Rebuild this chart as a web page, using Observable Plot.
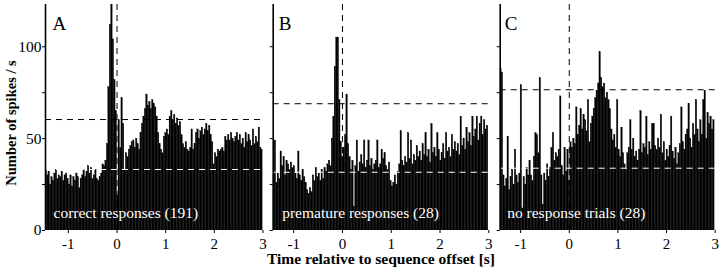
<!DOCTYPE html>
<html>
<head>
<meta charset="utf-8">
<script src="https://cdn.jsdelivr.net/npm/d3@7"></script>
<script src="https://cdn.jsdelivr.net/npm/@observablehq/plot@0.6"></script>
<style>
  html, body { margin: 0; padding: 0; background: white; }
  #wrap { position: relative; width: 720px; height: 276px; overflow: hidden; font-family: "Liberation Serif", "Times New Roman", serif; }
  #wrap svg { position: absolute; left: 0; top: 0; font-family: "Liberation Serif", "Times New Roman", serif; }
  #wrap svg text { font-family: "Liberation Serif", "Times New Roman", serif; }
  .lab { position: absolute; font-family: "Liberation Serif", "Times New Roman", serif; font-weight: bold; white-space: nowrap; color: black; }
</style>
</head>
<body>
<div id="wrap"></div>
<script>
// ---- data (spikes / s per 30 ms bin) ----
const binWidth = 0.03;
const startA = -1.47, startB = -1.42, startC = -1.42;
const ratesA = [
  33,30,32,25,29, 27,31,33,28,30, 29,32,27,30,31, 28,25,30,24,29,
  27,31,29,23,28, 30,33,29,32,35, 31,34,28,30,33, 28,27,29,31,36,
  35,38,47,78,112, 123,104,82,65,19, 60,45,72,58,33, 42,40,44,46,48,
  49,45,50,47,44, 53,58,62,66,74, 68,70,66,71,69, 67,62,53,47,44,
  42,51,53,55,52, 62,65,60,63,58, 61,57,59,52,47, 45,48,44,43,45,
  55,44,47,53,55, 50,54,56,52,55, 58,54,57,52,48, 36,42,40,44,43,
  44,45,43,51,49, 52,49,53,50,48, 51,53,49,52,47, 50,45,53,48,52,
  49,46,55,47,51, 48,56,45,44
];
const ratesB = [
  30,49,26,31,28, 43,35,40,30,38, 36,33,37,34,35, 31,28,43,30,27,
  33,29,26,22,20, 23,21,30,27,34, 29,31,27,33,28, 34,32,36,38,35,
  50,62,89,105,105, 71,48,40,45,52, 74,47,40,33,38, 13,35,49,32,37,
  41,36,49,34,38, 49,35,39,33,36, 38,49,34,36,44, 39,42,35,33,37,
  27,24,26,30,25, 32,36,54,38,35, 40,37,53,39,49, 36,41,38,46,40,
  43,38,47,41,53, 40,44,37,58,42, 45,40,53,44,38, 42,47,39,53,43,
  45,40,52,44,48, 43,47,41,62,46, 50,44,56,48,53, 46,62,51,55,62,
  49,58,62,52,60, 55,57
];
const ratesC = [
  88,86,30,24,28, 51,22,29,33,25, 44,30,26,31,79, 12,29,25,34,30,
  38,30,27,40,53, 52,42,83,30,14, 31,27,36,29,34, 45,53,38,42,40,
  44,73,35,30,45, 32,44,27,48,45, 50,47,67,52,57, 66,55,63,60,54,
  71,48,58,62,66, 72,76,80,97,83, 78,80,72,75,71, 66,55,49,52,45,
  71,44,40,56,42, 36,33,42,45,60, 44,50,40,43,38, 44,65,42,47,45,
  62,41,48,44,58, 58,46,44,50,45, 63,42,48,38,44, 40,46,62,43,39,
  45,36,42,47,67, 48,44,52,55,69, 50,45,58,52,71, 55,48,60,52,71,
  76,50,64,58,62, 55,60
];
const letters = ["A", "B", "C"];
const captions = ["correct responses (191)", "premature responses (28)", "no response trials (28)"];
const upperLines = [60.4, 69, 76.6];
const lowerLines = [33.2, 31.7, 33.9];
const xTicks = [-1, 0, 1, 2, 3];
const yTicks = [0, 25, 50, 75, 100];
const yLabelTicks = [0, 50, 100];
const yTitle = "Number of spikes / s";
const xTitle = "Time relative to sequence offset [s]";

// ---- layout ----
const W = 720, H = 276;
const panels = [
  {rates: ratesA, start: startA, left: 45,    right: 262.5, showY: true,  letterDx: 7,   capDx: 8},
  {rates: ratesB, start: startB, left: 272.7, right: 488.3, showY: false, letterDx: 5.5, capDx: 9},
  {rates: ratesC, start: startC, left: 499.7, right: 714.7, showY: false, letterDx: 4.5, capDx: 7}
];
const FONT = '"Liberation Serif", "Times New Roman", serif';
const wrap = document.getElementById("wrap");

panels.forEach((p, k) => {
  const bins = p.rates.map((v, i) => ({
    t0: p.start + i * binWidth,
    t1: p.start + (i + 1) * binWidth,
    v
  }));
  const chart = Plot.plot({
    width: W, height: H,
    marginLeft: p.left, marginRight: W - p.right,
    marginTop: 4, marginBottom: 46,
    style: `background: transparent; font-family: ${FONT}; font-size: 15.5px; color: black; overflow: visible;`,
    x: {domain: [p.start, 3]},
    y: {domain: [0, 123]},
    marks: [
      Plot.ruleX([0], {y1: 0, y2: 123, stroke: "black", strokeWidth: 1, strokeDasharray: "6,5"}),
      Plot.rectY(bins, {x1: "t0", x2: "t1", y1: 0, y2: "v", fill: "black", stroke: "black", strokeWidth: 0.3, inset: 0, clip: true}),
      Plot.ruleY([upperLines[k]], {stroke: "black", strokeWidth: 1, strokeDasharray: "6,5"}),
      Plot.ruleY([lowerLines[k]], {stroke: "white", strokeWidth: 1, strokeDasharray: "6,5"}),
      Plot.ruleX([p.start], {y1: 0, y2: 123, stroke: "black", strokeWidth: 1.6}),
      Plot.axisY({ticks: yTicks, tickSize: 3, tickPadding: 1, label: null,
        tickFormat: d => (p.showY && yLabelTicks.includes(d)) ? String(d) : "",
        fontSize: 15.5}),
      Plot.axisX({ticks: xTicks, tickSize: 3, tickPadding: 4.5, label: null,
        tickFormat: d => String(d), fontSize: 15}),
      Plot.text([letters[k]], {frameAnchor: "top-left", dx: p.letterDx, dy: 12.4, fontSize: 19, textAnchor: "start", fill: "black"}),
      Plot.text([captions[k]], {frameAnchor: "bottom-left", dx: p.capDx, dy: -13, fontSize: 15.5, textAnchor: "start", fill: "white"})
    ]
  });
  wrap.appendChild(chart);
});

const yl = document.createElement("div");
yl.className = "lab";
yl.textContent = yTitle;
yl.style.fontSize = "14.5px";
yl.style.lineHeight = "15px";
yl.style.left = "11px";
yl.style.top = "123px";
yl.style.transform = "translate(-50%, -50%) rotate(-90deg)";
wrap.appendChild(yl);

const xl = document.createElement("div");
xl.className = "lab";
xl.textContent = xTitle;
xl.style.fontSize = "15.5px";
xl.style.left = "381px";
xl.style.top = "252px";
xl.style.lineHeight = "13px";
xl.style.transform = "translateX(-50%)";
wrap.appendChild(xl);
</script>
</body>
</html>
